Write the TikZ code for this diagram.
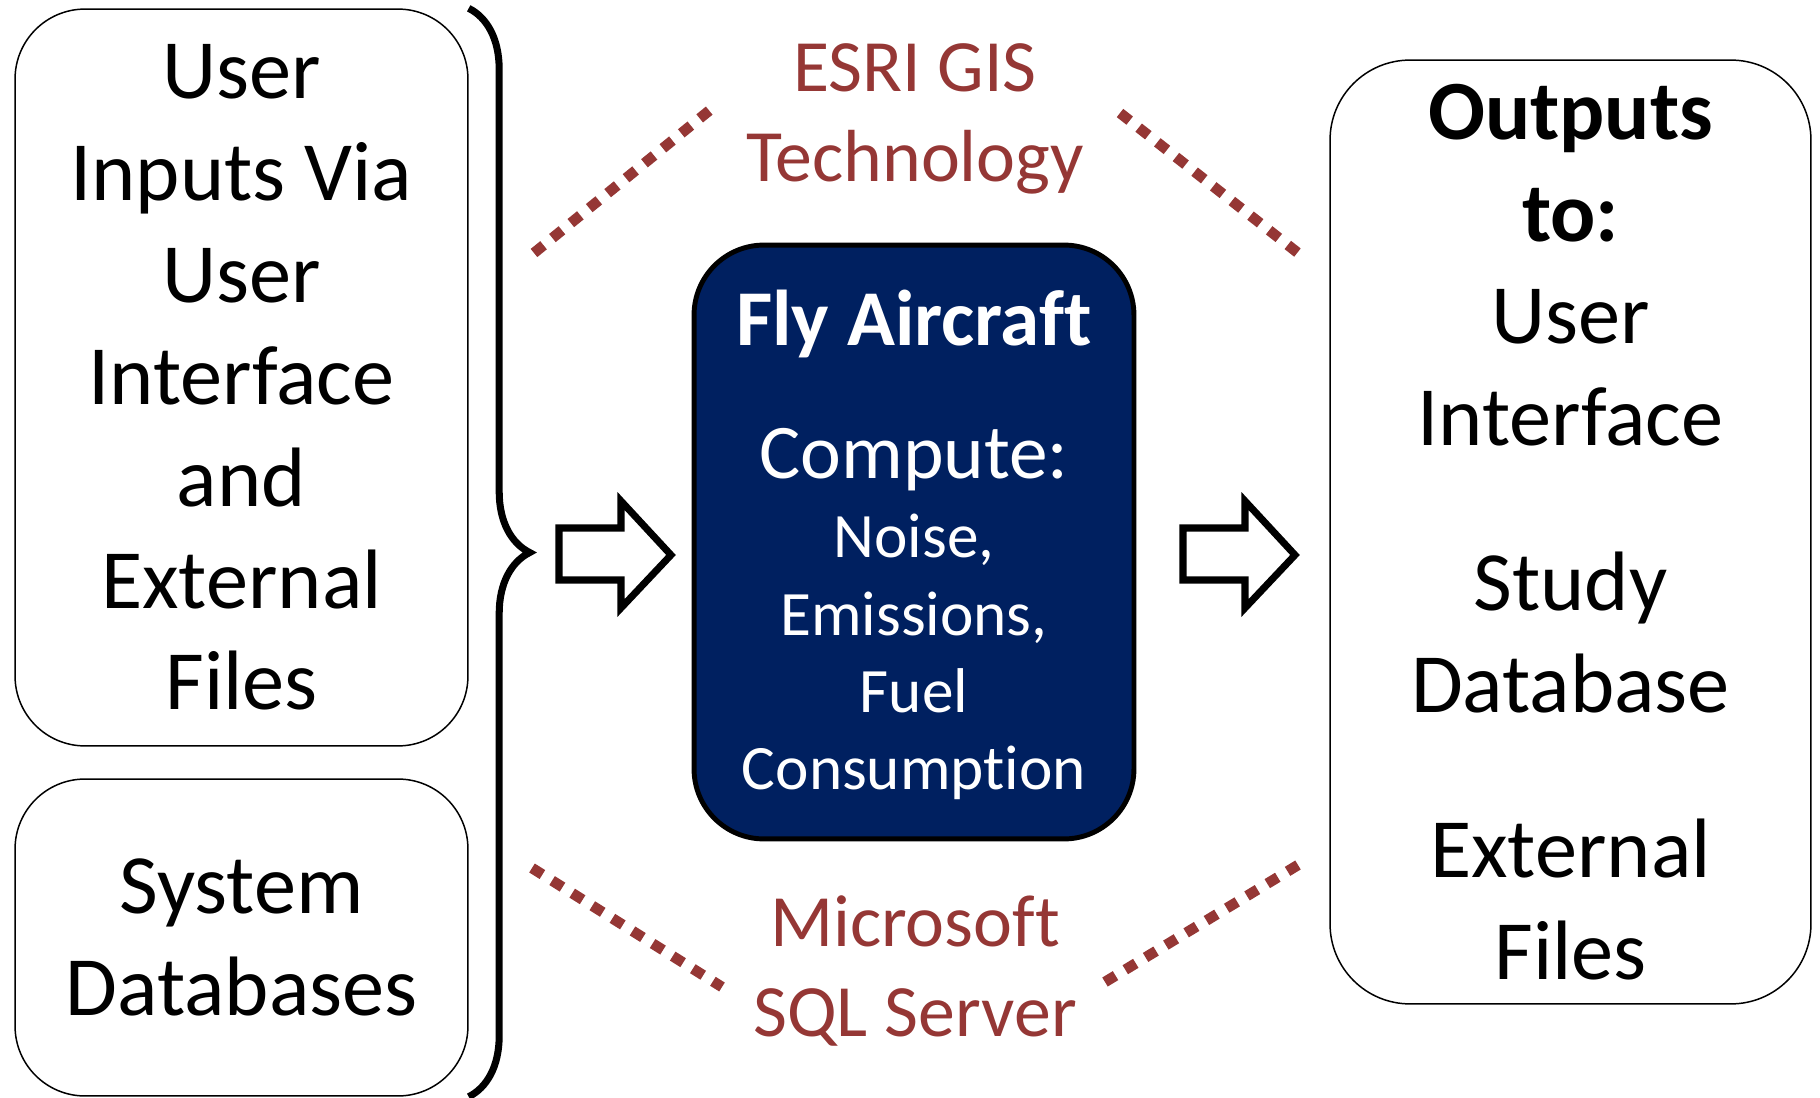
\documentclass[tikz,border=0pt]{standalone}
\usepackage{fontspec}
\setmainfont{Carlito}[Ligatures=NoCommon]
\usetikzlibrary{decorations.pathreplacing}
\definecolor{techred}{HTML}{953735}
\definecolor{flynavy}{HTML}{002060}
\tikzset{
  iobox/.style={draw, line width=0.85pt, rounded corners=1.4cm, align=center, inner sep=0pt,
    font=\fontsize{48}{58}\selectfont},
  flybox/.style={draw, line width=2.8pt, fill=flynavy, rounded corners=1.4cm, inner sep=0pt},
  flytext/.style={text=white, align=center, inner sep=0pt},
  techlabel/.style={text=techred, align=center, inner sep=0pt, font=\fontsize{42}{51}\selectfont},
  dotline/.style={techred, line width=6pt, dash pattern=on 7pt off 6.5pt},
  blockarrow/.style={draw, fill=white, line width=4pt, miter limit=10},
  braceline/.style={line width=4pt, decorate, decoration={brace, amplitude=1.22cm}}
}
\begin{document}
\begin{tikzpicture}[x=0.02cm, y=-0.02cm, line join=miter]
\useasboundingbox (0,0) rectangle (1820,1098);
\node[iobox, minimum width=9.06cm, minimum height=14.74cm] (ui) at (241.5,377.5)
  {User\\Inputs Via\\User\\Interface\\and\\External\\Files};
\node[iobox, minimum width=9.06cm, minimum height=6.34cm] (sd) at (241.5,937.5)
  {System\\Databases};
\draw[braceline] (ui.north east) -- (sd.south east);
\node[flybox, minimum width=8.8cm, minimum height=11.88cm] (fly) at (914,542) {};
\node[flytext, font=\bfseries\fontsize{45}{54}\selectfont] (flytitle) at (914,324) {Fly Aircraft};
\node[flytext, font=\fontsize{44}{53}\selectfont] (compute) at (914,460) {Compute:};
\node[flytext, font=\fontsize{36}{44}\selectfont] (results) at (914,657)
  {Noise,\\Emissions,\\Fuel\\Consumption};
\node[iobox, minimum width=9.62cm, minimum height=18.88cm, rounded corners=1.6cm] (out) at (1570.5,532)
  {\textbf{Outputs}\\\textbf{to:}\\User\\Interface\\[36pt]Study\\Database\\[36pt]External\\Files};
\foreach \dx in {0,624}
  \draw[blockarrow, xshift=\dx*0.02cm] (559,528) -- (621,528) -- (621,501) -- (671,555)
    -- (621,608) -- (621,580) -- (559,580) -- cycle;
\node[techlabel] (esri) at (915,119) {ESRI GIS\\Technology};
\node[techlabel] (sql) at (915,971) {Microsoft\\SQL Server};
\draw[dotline] (534,253) -- (710,110);
\draw[dotline] (1120,113) -- (1298,253);
\draw[dotline] (532,868) -- (722,987);
\draw[dotline] (1105,982) -- (1298,865);
\end{tikzpicture}
\end{document}
